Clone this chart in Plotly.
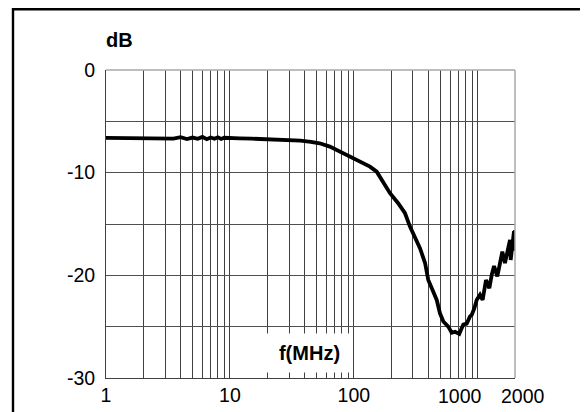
import math
import plotly.graph_objects as go

# ---- data ----
freq_mhz = [1, 1.5, 2, 2.5, 3, 3.5, 4, 4.5, 5, 5.5, 6, 6.5, 7, 7.5, 8, 8.5, 9,
            10, 12, 15, 21, 28, 37, 45, 53, 64,
            77, 93, 112, 135, 153, 173, 196, 228, 259, 284, 342, 376, 399,
            438, 467, 496, 528, 579, 617, 656, 710, 765, 815, 867, 895, 940, 981,
            1043, 1096, 1167, 1241, 1300, 1355, 1440, 1510, 1580, 1660, 1740,
            1823, 1846, 1900, 1963, 1985, 2000]
gain_db = [-6.62, -6.63, -6.62, -6.65, -6.60, -6.68, -6.55, -6.72, -6.58, -6.70,
           -6.52, -6.74, -6.58, -6.70, -6.56, -6.72, -6.60,
           -6.64, -6.66, -6.69, -6.75, -6.81, -6.88, -7.00, -7.14, -7.46,
           -7.95, -8.44, -8.86, -9.41, -9.90, -11.03, -12.0, -12.98, -13.95, -15.25, -17.36, -18.8, -20.45,
           -21.6, -22.4, -23.7, -24.5, -25.0, -25.6, -25.5, -25.7, -24.8, -24.7, -24.0, -23.85, -23.2, -22.4,
           -21.9, -22.4, -20.45, -21.25, -19.9, -19.1, -20.1, -18.6, -17.7, -18.8, -17.4,
           -16.55, -18.5, -17.0, -15.7, -17.6, -15.6]

x_grid = [1, 2, 3, 4, 5, 6, 7, 8, 9, 10, 20, 30, 40, 50, 60, 70, 80, 90,
          100, 200, 300, 400, 500, 600, 700, 800, 900, 1000]
x_labels = {1: "1", 10: "10", 100: "100"}
x_extra_labels = ["1000", "2000"]
y_ticks = [-30, -25, -20, -15, -10, -5]
y_labels = ["-30", "", "-20", "", "-10", ""]
y_top_label = "0"

FONT = "Liberation Sans, Arial, sans-serif"

# page has an 8px body margin, so the figure is placed 8px lower/right
OFF = 8
W, H = 588 - OFF, 412 - OFF
L, T, R, B = 106 - OFF, 70 - OFF, 515 - OFF, 378 - OFF
PW, PH = R - L, B - T

fig = go.Figure()
fig.add_trace(go.Scatter(x=freq_mhz, y=gain_db, mode="lines",
                         line=dict(color="black", width=3.8),
                         hoverinfo="skip", showlegend=False))

fig.update_layout(
    width=W, height=H,
    margin=dict(l=L, r=W - R, t=T, b=H - B, autoexpand=False),
    paper_bgcolor="white", plot_bgcolor="white",
    font=dict(family=FONT, size=19.5, color="black"),
    showlegend=False,
)
fig.update_xaxes(
    type="log", range=[0, math.log10(2000)],
    tickmode="array", tickvals=x_grid,
    ticktext=[x_labels.get(v, "") for v in x_grid],
    showgrid=True, gridcolor="#404040", gridwidth=1,
    showline=True, linecolor="#404040", linewidth=1,
    zeroline=False, ticks="", ticklabelstandoff=0, automargin=False,
)
fig.update_yaxes(
    range=[-30, 0],
    tickmode="array", tickvals=y_ticks + [0], ticktext=y_labels + [y_top_label],
    showgrid=True, gridcolor="#505050", gridwidth=1,
    showline=True, linecolor="#404040", linewidth=1,
    zeroline=False, ticks="", ticklabelstandoff=6, automargin=False,
)

# top and right borders of the grid (lighter gray)
fig.add_shape(type="line", xref="paper", yref="paper", x0=0, x1=1, y0=1, y1=1,
              line=dict(color="#a8a8a8", width=1.5))
fig.add_shape(type="line", xref="paper", yref="paper", x0=1, x1=1, y0=0, y1=1,
              line=dict(color="#a8a8a8", width=1.5))

# outer frame
fig.add_shape(type="rect", xref="paper", yref="paper",
              x0=(13 - OFF - L) / PW, x1=1.4, y0=(B - 1.2) / PH, y1=-0.3,
              line=dict(color="black", width=2.4))

# extra x labels shifted to avoid overlap
fig.add_annotation(x=3, y=0, xref="x", yref="paper", text=x_extra_labels[0],
                   showarrow=False, xshift=-17.7, yshift=-17.5,
                   xanchor="center", yanchor="middle",
                   font=dict(family=FONT, size=19.5, color="black"))
fig.add_annotation(x=math.log10(2000), y=0, xref="x", yref="paper", text=x_extra_labels[1],
                   showarrow=False, xshift=7.5, yshift=-17.5,
                   xanchor="center", yanchor="middle",
                   font=dict(family=FONT, size=19.5, color="black"))

# axis titles
fig.add_annotation(x=(119 - 106) / PW, y=(378 - 40) / PH, xref="paper", yref="paper",
                   text="<b>dB</b>", showarrow=False, xanchor="center", yanchor="middle",
                   font=dict(family=FONT, size=20, color="black"))
fig.add_annotation(x=(309.5 - 106) / PW, y=(378 - 353) / PH, xref="paper", yref="paper",
                   text="<b>f(MHz)</b>", showarrow=False, xanchor="center", yanchor="middle",
                   width=85, height=38, bgcolor="white", borderpad=0,
                   font=dict(family=FONT, size=20, color="black"))

fig.write_html("out.html")
